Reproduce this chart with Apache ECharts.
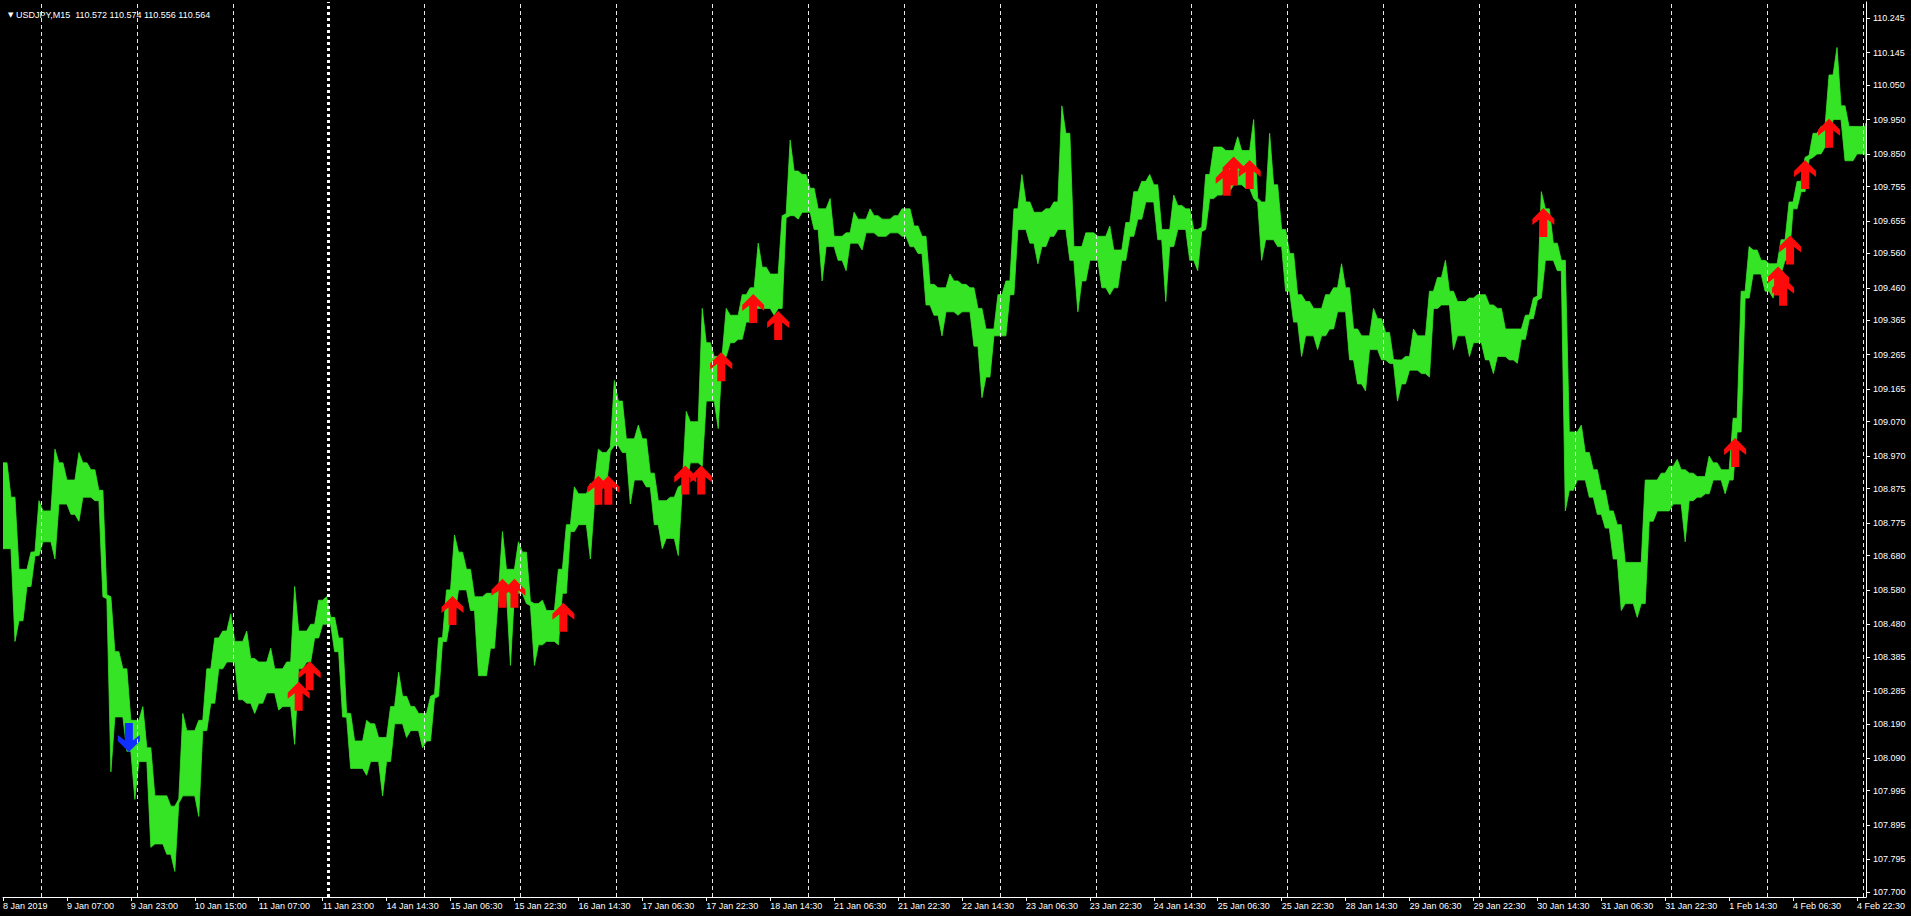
<!DOCTYPE html>
<html>
<head>
<meta charset="utf-8">
<script src="https://cdn.jsdelivr.net/npm/echarts@6/dist/echarts.min.js"></script>
<style>
html,body{margin:0;padding:0;background:#000;}
#c{width:1911px;height:916px;}
</style>
</head>
<body>
<div id="c"></div>
<script>
// ---------- data ----------
const symbolName = 'USDJPY,M15';
const lastBarOHLC = ['110.572', '110.574', '110.556', '110.564'];
const barsPerPoint = 8;          // each sample = 8 M15 bars (2 hours)
// high / low of each 2-hour window
const highs = [
108.95,108.85,108.64,108.69,108.84,108.81,108.99,108.95,108.90,108.98,
108.95,108.93,108.87,108.56,108.40,108.35,108.20,108.24,108.12,107.98,
107.98,107.95,108.22,108.17,108.20,108.35,108.44,108.46,108.51,108.43,
108.46,108.38,108.37,108.41,108.35,108.37,108.59,108.46,108.48,108.55,
108.56,108.50,108.44,108.22,108.14,108.20,108.19,108.15,108.24,108.34,
108.27,108.24,108.22,108.27,108.44,108.58,108.74,108.69,108.64,108.56,
108.57,108.57,108.75,108.64,108.72,108.69,108.54,108.55,108.52,108.64,
108.77,108.88,108.86,108.89,108.99,108.98,109.19,109.13,109.02,109.06,
109.02,108.92,108.84,108.85,108.88,109.10,109.07,109.40,109.30,109.26,
109.40,109.38,109.44,109.46,109.59,109.52,109.50,109.67,109.89,109.80,
109.79,109.75,109.69,109.72,109.61,109.62,109.68,109.66,109.69,109.67,
109.66,109.67,109.69,109.69,109.64,109.61,109.47,109.46,109.50,109.48,
109.47,109.46,109.40,109.34,109.44,109.48,109.69,109.79,109.71,109.68,
109.69,109.71,109.99,109.91,109.58,109.62,109.62,109.61,109.64,109.57,
109.65,109.74,109.77,109.79,109.76,109.63,109.73,109.70,109.69,109.63,
109.79,109.87,109.87,109.86,109.90,109.86,109.95,109.71,109.91,109.76,
109.63,109.56,109.44,109.42,109.40,109.44,109.46,109.53,109.46,109.34,
109.32,109.40,109.37,109.33,109.25,109.26,109.34,109.32,109.45,109.49,
109.54,109.45,109.42,109.43,109.44,109.44,109.41,109.40,109.34,109.34,
109.38,109.43,109.74,109.69,109.59,109.54,109.04,109.06,108.98,108.93,
108.87,108.81,108.77,108.66,108.66,108.90,108.90,108.92,108.94,108.96,
108.93,108.92,108.91,108.97,108.95,108.93,109.08,109.45,109.58,109.57,
109.54,109.53,109.60,109.71,109.77,109.84,109.91,109.93,110.08,110.16,
109.99,109.93,109.93,109.94
];
const lows = [
108.70,108.43,108.49,108.59,108.68,108.72,108.67,108.83,108.80,108.78,
108.85,108.84,108.56,108.05,108.21,108.11,107.97,108.08,107.83,107.84,
107.81,107.76,107.98,107.98,107.92,108.17,108.25,108.35,108.37,108.26,
108.25,108.22,108.25,108.28,108.23,108.24,108.13,108.35,108.37,108.44,
108.48,108.40,108.21,108.06,108.06,108.04,108.08,107.98,108.08,108.19,
108.15,108.17,108.12,108.14,108.27,108.43,108.50,108.58,108.52,108.33,
108.33,108.41,108.57,108.36,108.57,108.54,108.36,108.42,108.43,108.42,
108.57,108.75,108.77,108.67,108.83,108.88,109.00,108.98,108.83,108.90,
108.88,108.77,108.70,108.73,108.68,108.88,108.95,108.94,109.13,109.05,
109.26,109.30,109.31,109.36,109.40,109.40,109.38,109.40,109.67,109.66,
109.68,109.63,109.48,109.58,109.54,109.51,109.59,109.57,109.62,109.61,
109.61,109.62,109.61,109.58,109.56,109.41,109.38,109.32,109.39,109.38,
109.39,109.29,109.14,109.20,109.32,109.32,109.44,109.63,109.59,109.53,
109.58,109.61,109.63,109.54,109.39,109.48,109.54,109.46,109.44,109.46,
109.54,109.61,109.66,109.71,109.60,109.42,109.58,109.63,109.54,109.51,
109.63,109.72,109.73,109.74,109.76,109.75,109.72,109.54,109.60,109.58,
109.45,109.36,109.26,109.32,109.28,109.32,109.34,109.39,109.25,109.18,
109.16,109.28,109.25,109.24,109.13,109.18,109.22,109.21,109.20,109.40,
109.41,109.28,109.32,109.26,109.30,109.25,109.21,109.26,109.25,109.24,
109.31,109.37,109.43,109.54,109.51,108.81,108.87,108.90,108.85,108.80,
108.76,108.67,108.52,108.54,108.50,108.54,108.78,108.81,108.81,108.83,
108.72,108.84,108.85,108.86,108.90,108.86,108.90,109.04,109.43,109.50,
109.45,109.43,109.50,109.54,109.69,109.74,109.84,109.85,109.87,109.95,
109.83,109.83,109.85,109.83
];
// signal arrows (bar index, price)
const buyArrowBars   = [296,307,450,500,512,561,596,606,683,699,719,751,776,1225,1232,1248,1542,1734,1777,1782,1789,1804,1828];
const buyArrowPrices = [108.27,108.33,108.52,108.57,108.57,108.50,108.87,108.87,108.90,108.90,109.23,109.40,109.35,109.77,109.80,109.79,109.65,108.98,109.48,109.45,109.57,109.79,109.91];
const sellArrowBars   = [126];
const sellArrowPrices = [108.15];
// axis ticks
const xTickStep = 64;
const xTickLabels = ['8 Jan 2019','9 Jan 07:00','9 Jan 23:00','10 Jan 15:00','11 Jan 07:00','11 Jan 23:00','14 Jan 14:30','15 Jan 06:30','15 Jan 22:30','16 Jan 14:30','17 Jan 06:30','17 Jan 22:30','18 Jan 14:30','21 Jan 06:30','21 Jan 22:30','22 Jan 14:30','23 Jan 06:30','23 Jan 22:30','24 Jan 14:30','25 Jan 06:30','25 Jan 22:30','28 Jan 14:30','29 Jan 06:30','29 Jan 22:30','30 Jan 14:30','31 Jan 06:30','31 Jan 22:30','1 Feb 14:30','4 Feb 06:30','4 Feb 22:30'];
const yTickLabels = ['107.700','107.795','107.895','107.995','108.090','108.190','108.285','108.385','108.480','108.580','108.680','108.775','108.875','108.970','109.070','109.165','109.265','109.365','109.460','109.560','109.655','109.755','109.850','109.950','110.050','110.145','110.245'];
const daySeparatorBars = [38,134,230,326,422,518,614,710,806,902,998,1094,1190,1286,1382,1478,1574,1670,1766,1862];
const weekSeparatorBars = [326];
const visibleBars = 1865;
const priceMin = 107.6854, priceMax = 110.2925;

// ---------- chart ----------
const GREEN = '#36e426';
const FG = '#ffffff';
const FONT = "'Liberation Sans', Arial, sans-serif";
const yTickValues = yTickLabels.map(Number);
const arrowUp = 'path://M11,0 L22,11 L22,17 L15,11.5 L15,29 L7,29 L7,11.5 L0,17 L0,11 Z';

// band outline: window extremes at window centres, the tighter of the two
// neighbouring extremes at window borders (gives the jagged bar texture)
function bandPath(api) {
  const n = highs.length, half = barsPerPoint / 2;
  const top = [], bot = [];
  top.push(api.coord([0, highs[0]])); bot.push(api.coord([0, lows[0]]));
  for (let i = 0; i < n; i++) {
    const xc = Math.min(i * barsPerPoint + half, visibleBars);
    top.push(api.coord([xc, highs[i]]));
    bot.push(api.coord([xc, lows[i]]));
    if (i < n - 1) {
      const xb = (i + 1) * barsPerPoint;
      let t = Math.min(highs[i], highs[i + 1]);
      let b = Math.max(lows[i], lows[i + 1]);
      if (t - b < 0.012) { const m = (t + b) / 2; t = m + 0.006; b = m - 0.006; }
      top.push(api.coord([xb, t]));
      bot.push(api.coord([xb, b]));
    }
  }
  top.push(api.coord([visibleBars, highs[n - 1]])); bot.push(api.coord([visibleBars, lows[n - 1]]));
  return top.concat(bot.reverse());
}

const chart = echarts.init(document.getElementById('c'), null, {renderer: 'svg', width: 1911, height: 916});

chart.setOption({
  backgroundColor: '#000000',
  animation: false,
  title: {
    text: '{a|▼} ' + symbolName + '  ' + lastBarOHLC.join(' '),
    left: 3, top: 5,
    textStyle: {color: FG, fontSize: 9, fontWeight: 'normal', fontFamily: FONT,
      rich: {a: {fontSize: 7, color: FG, fontFamily: "'DejaVu Sans', sans-serif"}}}
  },
  grid: {left: 1, right: 45, top: 2, bottom: 19, containLabel: false},
  xAxis: {
    type: 'value', min: 0, max: visibleBars, interval: xTickStep,
    axisLine: {show: true, onZero: false, lineStyle: {color: FG, width: 1}},
    axisTick: {show: true, length: 4, lineStyle: {color: FG}},
    axisLabel: {
      color: FG, fontSize: 9, fontFamily: FONT, align: 'left', margin: 4,
      showMaxLabel: false,
      formatter: v => {
        const i = Math.round(v / xTickStep);
        return (Math.abs(v - i * xTickStep) < 0.01 && xTickLabels[i]) ? xTickLabels[i] : '';
      }
    },
    splitLine: {show: false}
  },
  yAxis: {
    type: 'value', position: 'right', min: priceMin, max: priceMax, scale: true,
    axisLine: {show: true, onZero: false, lineStyle: {color: FG, width: 1}},
    axisTick: {show: true, length: 4, customValues: yTickValues, lineStyle: {color: FG}},
    axisLabel: {
      color: FG, fontSize: 9, fontFamily: FONT, margin: 7, customValues: yTickValues,
      formatter: v => {
        const s = yTickLabels.find(t => Math.abs(Number(t) - v) < 1e-6);
        return s || '';
      }
    },
    splitLine: {show: false}
  },
  series: [
    {
      type: 'line', data: [], z: 1, silent: true,
      markLine: {
        silent: true, symbol: ['none', 'none'], label: {show: false},
        lineStyle: {color: '#e8e8e8', width: 1, type: [4, 3]},
        data: daySeparatorBars.map(b => weekSeparatorBars.includes(b)
          ? {xAxis: b, lineStyle: {width: 3, type: [3, 3], color: '#ffffff'}}
          : {xAxis: b})
      }
    },
    {
      type: 'custom', z: 2, silent: true, clip: true,
      data: [[0, highs[0]]],
      encode: {x: 0, y: 1},
      renderItem: (params, api) => ({
        type: 'polygon', shape: {points: bandPath(api)},
        style: {fill: GREEN, stroke: GREEN, lineWidth: 0.8}
      })
    },
    {
      type: 'scatter', z: 3, silent: true,
      symbol: arrowUp, symbolSize: [22, 29],
      itemStyle: {color: '#ff0a0a', opacity: 1},
      data: buyArrowBars.map((b, i) => [b, buyArrowPrices[i]])
    },
    {
      type: 'scatter', z: 3, silent: true,
      symbol: arrowUp, symbolSize: [22, 29], symbolRotate: 180,
      itemStyle: {color: '#1030ff', opacity: 1},
      data: sellArrowBars.map((b, i) => [b, sellArrowPrices[i]])
    }
  ]
});
</script>
</body>
</html>
